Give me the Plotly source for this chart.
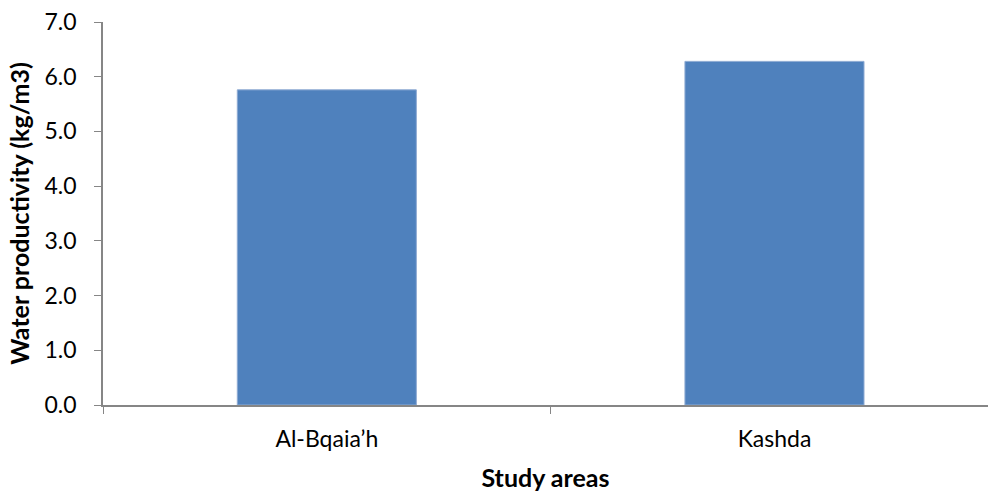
import plotly.graph_objects as go

# Study areas and their water productivity (kg/m3)
areas = ["Al-Bqaia\u2019h", "Kashda"]
productivity = [5.76, 6.28]
y_ticks = [0, 1, 2, 3, 4, 5, 6, 7]

axis_grey = "#868686"
font_family = "Lato, 'Open Sans', Arial, sans-serif"

fig = go.Figure(
    go.Bar(
        x=areas,
        y=productivity,
        width=0.4,
        marker=dict(color="#4F81BD", line=dict(color="#8EAAD3", width=1)),
    )
)

fig.update_layout(
    width=988,
    height=492,
    margin=dict(l=103, r=0, t=22, b=87),
    paper_bgcolor="white",
    plot_bgcolor="white",
    showlegend=False,
    font=dict(family=font_family, color="#000000", size=23),
)

fig.update_xaxes(
    range=[-0.5, 1.477],
    showline=True,
    linecolor=axis_grey,
    linewidth=1.5,
    ticks="outside",
    tickson="boundaries",
    ticklen=7,
    tickcolor=axis_grey,
    tickfont=dict(size=23),
    ticklabelstandoff=13,
    showgrid=False,
    title=dict(text="<b>Study areas</b>", font=dict(size=25), standoff=22),
)

fig.update_yaxes(
    range=[0, 7],
    tickvals=y_ticks,
    tickformat=".1f",
    showline=True,
    linecolor=axis_grey,
    linewidth=1.5,
    ticks="outside",
    ticklen=7,
    tickcolor=axis_grey,
    tickfont=dict(size=23),
    ticklabelstandoff=13,
    showgrid=False,
    zeroline=False,
    title=dict(text="<b>Water productivity (kg/m3)</b>", font=dict(size=25), standoff=8),
)

fig.write_html("out.html")
